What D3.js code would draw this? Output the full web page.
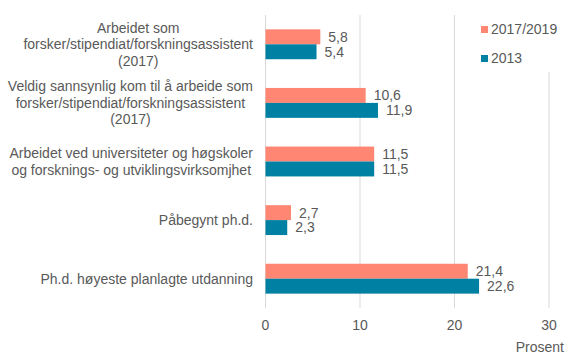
<html>
  <head>
    <script src="https://cdn.jsdelivr.net/npm/d3@7"></script>
    <style>
      body { margin: 0; background: #fff; }
      text { font-family: "Liberation Sans", Arial, sans-serif; fill: #595959; }
    </style>
  </head>
  <body>
    <script>
      const categories = [
        ["Arbeidet som", "forsker/stipendiat/forskningsassistent", "(2017)"],
        ["Veldig sannsynlig kom til å arbeide som", "forsker/stipendiat/forskningsassistent", "(2017)"],
        ["Arbeidet ved universiteter og høgskoler", "og forsknings- og utviklingsvirksomjhet"],
        ["Påbegynt ph.d."],
        ["Ph.d. høyeste planlagte utdanning"]
      ];
      const series = ["2017/2019", "2013"];
      const values2017 = [5.8, 10.6, 11.5, 2.7, 21.4];
      const values2013 = [5.4, 11.9, 11.5, 2.3, 22.6];
      const ticks = [0, 10, 20, 30];
      const colors = ["#ff8672", "#0080a3"];

      const width = 570, height = 361;
      const fs = 14;
      const svg = d3.select("body").append("svg")
          .attr("width", width)
          .attr("height", height);

      const x = d3.scaleLinear().domain([0, 30]).range([265.5, 549]);
      const y = d3.scaleBand().domain(d3.range(categories.length)).range([15, 308]).paddingInner(0.49).paddingOuter(0.245);
      const sub = d3.scaleBand().domain(series).range([0, y.bandwidth()]);

      // gridlines (the one at 30 stops under the legend)
      svg.append("g").selectAll("line")
        .data(ticks)
        .join("line")
          .attr("x1", d => x(d)).attr("x2", d => x(d))
          .attr("y1", d => d === 30 ? 72 : 15)
          .attr("y2", 308)
          .attr("stroke", "#d9d9d9")
          .attr("stroke-width", 1);

      const data = values2017.map((v, i) => [
        { s: series[0], v: v, i: i },
        { s: series[1], v: values2013[i], i: i }
      ]);

      const groups = svg.append("g").selectAll("g")
        .data(data)
        .join("g")
          .attr("transform", (d, i) => `translate(0,${y(i)})`);

      groups.selectAll("rect")
        .data(d => d)
        .join("rect")
          .attr("x", x(0))
          .attr("y", d => sub(d.s))
          .attr("width", d => x(d.v) - x(0))
          .attr("height", sub.bandwidth())
          .attr("fill", (d, j) => colors[j]);

      groups.selectAll("text")
        .data(d => d)
        .join("text")
          .attr("x", d => x(d.v) + 8)
          .attr("y", d => sub(d.s) + sub.bandwidth() / 2)
          .attr("dy", "0.35em")
          .attr("font-size", fs)
          .text(d => d3.format(".1f")(d.v).replace(".", ","));

      // category labels: lines centred within a block right-aligned at 253
      const lineH = 16.5;
      categories.forEach((lines, i) => {
        const cy = y(i) + y.bandwidth() / 2;
        const t = svg.append("text").attr("font-size", fs).attr("text-anchor", "middle");
        const spans = t.selectAll("tspan")
          .data(lines)
          .join("tspan")
            .attr("x", 0)
            .attr("y", (d, k) => cy + (k - (lines.length - 1) / 2) * lineH)
            .attr("dy", "0.35em")
            .text(d => d);
        const w = d3.max(spans.nodes(), n => n.getComputedTextLength());
        spans.attr("x", 253 - w / 2);
      });

      // x axis labels
      svg.append("g").selectAll("text")
        .data(ticks)
        .join("text")
          .attr("x", d => x(d))
          .attr("y", 325)
          .attr("dy", "0.35em")
          .attr("text-anchor", "middle")
          .attr("font-size", fs)
          .text(d => d);

      svg.append("text")
        .attr("x", 564).attr("y", 347).attr("dy", "0.35em")
        .attr("text-anchor", "end").attr("font-size", fs)
        .text("Prosent");

      // legend
      const legend = svg.append("g").selectAll("g")
        .data(series)
        .join("g")
          .attr("transform", (d, i) => `translate(481,${29.5 + i * 29})`);
      legend.append("rect")
        .attr("x", 0).attr("y", -3.5).attr("width", 7).attr("height", 7)
        .attr("fill", (d, i) => colors[i]);
      legend.append("text")
        .attr("x", 10).attr("dy", "0.35em").attr("font-size", fs)
        .text(d => d);
    </script>
  </body>
</html>
